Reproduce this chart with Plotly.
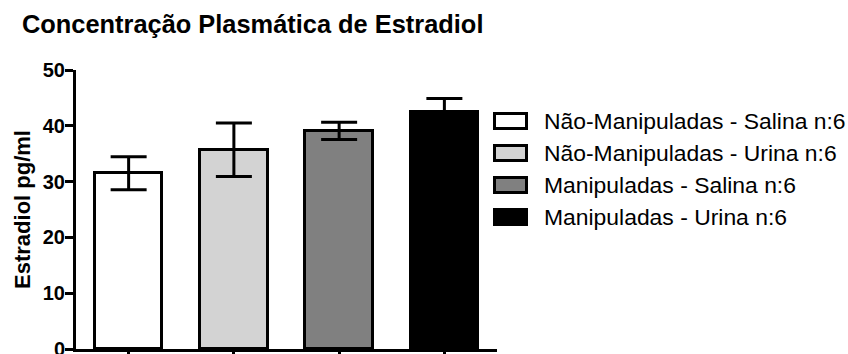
import plotly.graph_objects as go

# Plasma estradiol by group (mean ± SEM, pg/ml)
groups = [
    "Não-Manipuladas - Salina n:6",
    "Não-Manipuladas - Urina n:6",
    "Manipuladas - Salina n:6",
    "Manipuladas - Urina n:6",
]
means = [31.5, 35.7, 39.1, 42.5]
sems = [2.95, 4.8, 1.55, 2.4]
fills = ["#ffffff", "#d3d3d3", "#808080", "#000000"]

y_ticks = [0, 10, 20, 30, 40, 50]

W, H = 848, 354
M_L, M_R, M_T, M_B = 76, 351, 70, 5
FONT = "Arial, 'Liberation Sans', sans-serif"

fig = go.Figure()
fig.add_trace(go.Bar(
    x=list(range(len(groups))),
    y=means,
    width=0.64,
    marker=dict(color=fills, line=dict(color="#000000", width=3)),
    error_y=dict(type="data", array=sems, visible=True,
                 color="#000000", thickness=3, width=18),
    showlegend=False,
))

# pixel -> paper helpers for the hand-drawn legend
pw = W - M_L - M_R
ph = H - M_T - M_B


def px_x(v):
    return (v - M_L) / pw


def px_y(v):
    return (H - M_B - v) / ph


row_y = [121, 153, 185, 217]
for name, col, yc in zip(groups, fills, row_y):
    fig.add_shape(type="rect", xref="paper", yref="paper",
                  x0=px_x(494.5), x1=px_x(526.5),
                  y0=px_y(yc + 7.5), y1=px_y(yc - 7.5),
                  fillcolor=col, line=dict(color="#000000", width=3))
    fig.add_annotation(xref="paper", yref="paper",
                       x=px_x(542), y=px_y(yc),
                       xanchor="left", yanchor="middle", showarrow=False,
                       text=name, font=dict(family=FONT, size=22.9, color="#000000"))

fig.update_layout(
    width=W, height=H,
    margin=dict(l=M_L, r=M_R, t=M_T, b=M_B, autoexpand=False),
    paper_bgcolor="#ffffff", plot_bgcolor="#ffffff",
    title=dict(text="Concentração Plasmática de Estradiol",
               font=dict(family=FONT, size=25.4, color="#000000", weight="bold"),
               xref="container", x=22 / W, xanchor="left",
               yref="container", y=1 - 24 / H, yanchor="middle"),
    bargap=0,
)
fig.update_xaxes(
    range=[-0.5, 3.5], tickvals=list(range(len(groups))), showticklabels=False,
    showline=True, linecolor="#000000", linewidth=3,
    ticks="outside", ticklen=6, tickwidth=3, tickcolor="#000000",
    showgrid=False, zeroline=False, fixedrange=True, automargin=False,
)
fig.update_yaxes(
    range=[0, 50], tickvals=y_ticks, ticktext=[str(t) for t in y_ticks],
    showline=True, linecolor="#000000", linewidth=3,
    ticks="outside", ticklen=8, tickwidth=3, tickcolor="#000000",
    tickfont=dict(family=FONT, size=20, color="#000000", weight="bold"),
    ticklabelstandoff=-4, ticklabeloverflow="allow",
    showgrid=False, zeroline=False, automargin=False,
    title=dict(text="Estradiol pg/ml", standoff=7,
               font=dict(family=FONT, size=22, color="#000000", weight="bold")),
)

fig.write_html("out.html")
